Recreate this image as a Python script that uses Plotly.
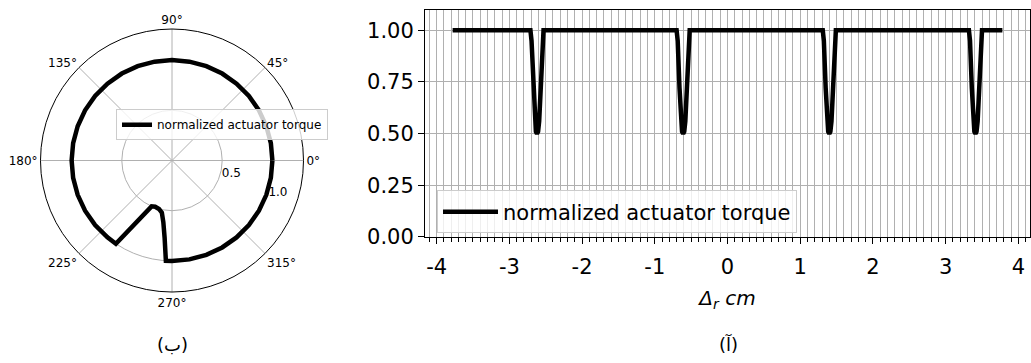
import plotly.graph_objects as go

# ---------------- data ----------------
# Cartesian: normalized actuator torque vs radial offset
torque_x = [-3.78,
            -2.71, -2.695, -2.67, -2.65, -2.635, -2.62, -2.605, -2.59, -2.57, -2.545, -2.53,
            -0.70, -0.685, -0.66, -0.64, -0.625, -0.61, -0.595, -0.58, -0.56, -0.535, -0.52,
            1.31, 1.325, 1.35, 1.37, 1.385, 1.40, 1.415, 1.43, 1.45, 1.475, 1.49,
            3.32, 3.335, 3.36, 3.38, 3.395, 3.41, 3.425, 3.44, 3.46, 3.485, 3.50,
            3.78]
torque_y = [1.0,
            1.0, 0.95, 0.72, 0.56, 0.51, 0.50, 0.51, 0.56, 0.72, 0.95, 1.0,
            1.0, 0.95, 0.72, 0.56, 0.51, 0.50, 0.51, 0.56, 0.72, 0.95, 1.0,
            1.0, 0.95, 0.72, 0.56, 0.51, 0.50, 0.51, 0.56, 0.72, 0.95, 1.0,
            1.0, 0.95, 0.72, 0.56, 0.51, 0.50, 0.51, 0.56, 0.72, 0.95, 1.0,
            1.0]

# Polar: normalized actuator torque vs angle (degrees)
polar_theta = [0, 10, 20, 30, 40, 50, 60, 70, 80, 90, 100, 110, 120, 130, 140, 150,
               160, 170, 180, 190, 200, 210, 220, 230, 236,
               246, 250, 255, 259, 262, 264.5, 266.5,
               270, 280, 290, 300, 310, 320, 330, 340, 350, 360]
polar_r = [1.0, 1.0, 1.0, 1.0, 1.0, 1.0, 1.0, 1.0, 1.0, 1.0, 1.0, 1.0, 1.0, 1.0, 1.0, 1.0,
           1.0, 1.0, 1.0, 1.0, 1.0, 1.0, 1.0, 1.0, 1.0,
           0.50, 0.49, 0.50, 0.53, 0.62, 0.77, 1.0,
           1.0, 1.0, 1.0, 1.0, 1.0, 1.0, 1.0, 1.0, 1.0, 1.0]

x_ticks = [-4, -3, -2, -1, 0, 1, 2, 3, 4]
x_ticklabels = ["-4", "-3", "-2", "-1", "0", "1", "2", "3", "4"]
y_ticks = [0.0, 0.25, 0.5, 0.75, 1.0]
y_ticklabels = ["0.00", "0.25", "0.50", "0.75", "1.00"]
r_ticks = [0.5, 1.0]
r_ticklabels = ["0.5", "1.0"]
theta_ticks = [0, 45, 90, 135, 180, 225, 270, 315]
theta_ticklabels = ["0°", "45°", "90°", "135°", "180°", "225°", "270°", "315°"]
series_name = "normalized actuator torque"
x_title = "<i>Δ<sub>r</sub> cm</i>"
caption_left = "(ب)"
caption_right = "(آ)"

W, H = 1031, 363
FONT = "DejaVu Sans"
GRID = "#b0b0b0"

# polar domain centre / half-size in pixels
PCX, PCY, PR = 172, 166, 136

fig = go.Figure()

fig.add_trace(go.Scatterpolar(
    r=polar_r, theta=polar_theta, mode="lines",
    line=dict(color="black", width=4.5),
    name=series_name, legend="legend", subplot="polar",
))

fig.add_trace(go.Scatter(
    x=torque_x, y=torque_y, mode="lines",
    line=dict(color="black", width=4.5),
    name=series_name, legend="legend2", xaxis="x", yaxis="y",
))

fig.update_layout(
    width=W, height=H,
    margin=dict(l=0, r=0, t=0, b=0),
    paper_bgcolor="white", plot_bgcolor="white",
    font=dict(family=FONT, color="black"),
    polar=dict(
        domain=dict(x=[(PCX - PR) / W, (PCX + PR) / W],
                    y=[(H - PCY - PR) / H, (H - PCY + PR) / H]),
        bgcolor="white",
        radialaxis=dict(
            range=[0, 1.31], tickvals=r_ticks, ticktext=r_ticklabels,
            showline=False, ticks="", angle=-22, tickangle=-22, side="counterclockwise",
            gridcolor=GRID, gridwidth=0.8,
            tickfont=dict(size=12, family=FONT, color="black"),
        ),
        angularaxis=dict(
            tickvals=theta_ticks, ticktext=theta_ticklabels,
            direction="counterclockwise", rotation=0,
            showline=True, linecolor="black", linewidth=1,
            ticks="", gridcolor=GRID, gridwidth=0.8,
            tickfont=dict(size=12, family=FONT, color="black"),
        ),
    ),
    xaxis=dict(
        domain=[425 / W, 1030 / W], range=[-4.16, 4.16],
        tickvals=x_ticks, ticktext=x_ticklabels,
        ticks="outside", ticklen=6, tickwidth=1, tickcolor="black",
        ticklabelstandoff=5,
        showline=True, linecolor="black", linewidth=1, mirror=True,
        showgrid=True, gridcolor=GRID, gridwidth=0.8, zeroline=False,
        minor=dict(dtick=0.1, tick0=0, ticks="outside", ticklen=4, tickcolor="black",
                   showgrid=True, gridcolor=GRID, gridwidth=0.8),
        tickfont=dict(size=21, family=FONT, color="black"),
        title=dict(text=x_title, font=dict(size=20, family=FONT, color="black"), standoff=12),
        anchor="y",
    ),
    yaxis=dict(
        domain=[(H - 245) / H, (H - 10) / H], range=[0, 1.1],
        tickvals=y_ticks, ticktext=y_ticklabels,
        ticks="outside", ticklen=6, tickwidth=1, tickcolor="black",
        showline=True, linecolor="black", linewidth=1, mirror=True,
        showgrid=True, gridcolor=GRID, gridwidth=0.8, zeroline=False,
        tickfont=dict(size=21, family=FONT, color="black"),
        anchor="x",
    ),
    legend=dict(
        x=116 / W, y=(H - 113) / H, xanchor="left", yanchor="top",
        bgcolor="rgba(255,255,255,0.8)", bordercolor="#cccccc", borderwidth=1,
        font=dict(size=12, family=FONT, color="black"),
        itemwidth=30, tracegroupgap=0,
    ),
    legend2=dict(
        x=437 / W, y=(H - 197) / H, xanchor="left", yanchor="top",
        bgcolor="rgba(255,255,255,0.8)", bordercolor="#cccccc", borderwidth=1,
        font=dict(size=21, family=FONT, color="black"),
        itemwidth=55, tracegroupgap=0,
    ),
    showlegend=True,
)

fig.add_annotation(text=caption_left, x=172 / W, y=(H - 356) / H, xref="paper", yref="paper",
                   xanchor="center", yanchor="middle",
                   showarrow=False, font=dict(size=18, family=FONT, color="black"))
fig.add_annotation(text=caption_right, x=728 / W, y=(H - 356) / H, xref="paper", yref="paper",
                   xanchor="center", yanchor="middle",
                   showarrow=False, font=dict(size=18, family=FONT, color="black"))

fig.write_html("out.html")
